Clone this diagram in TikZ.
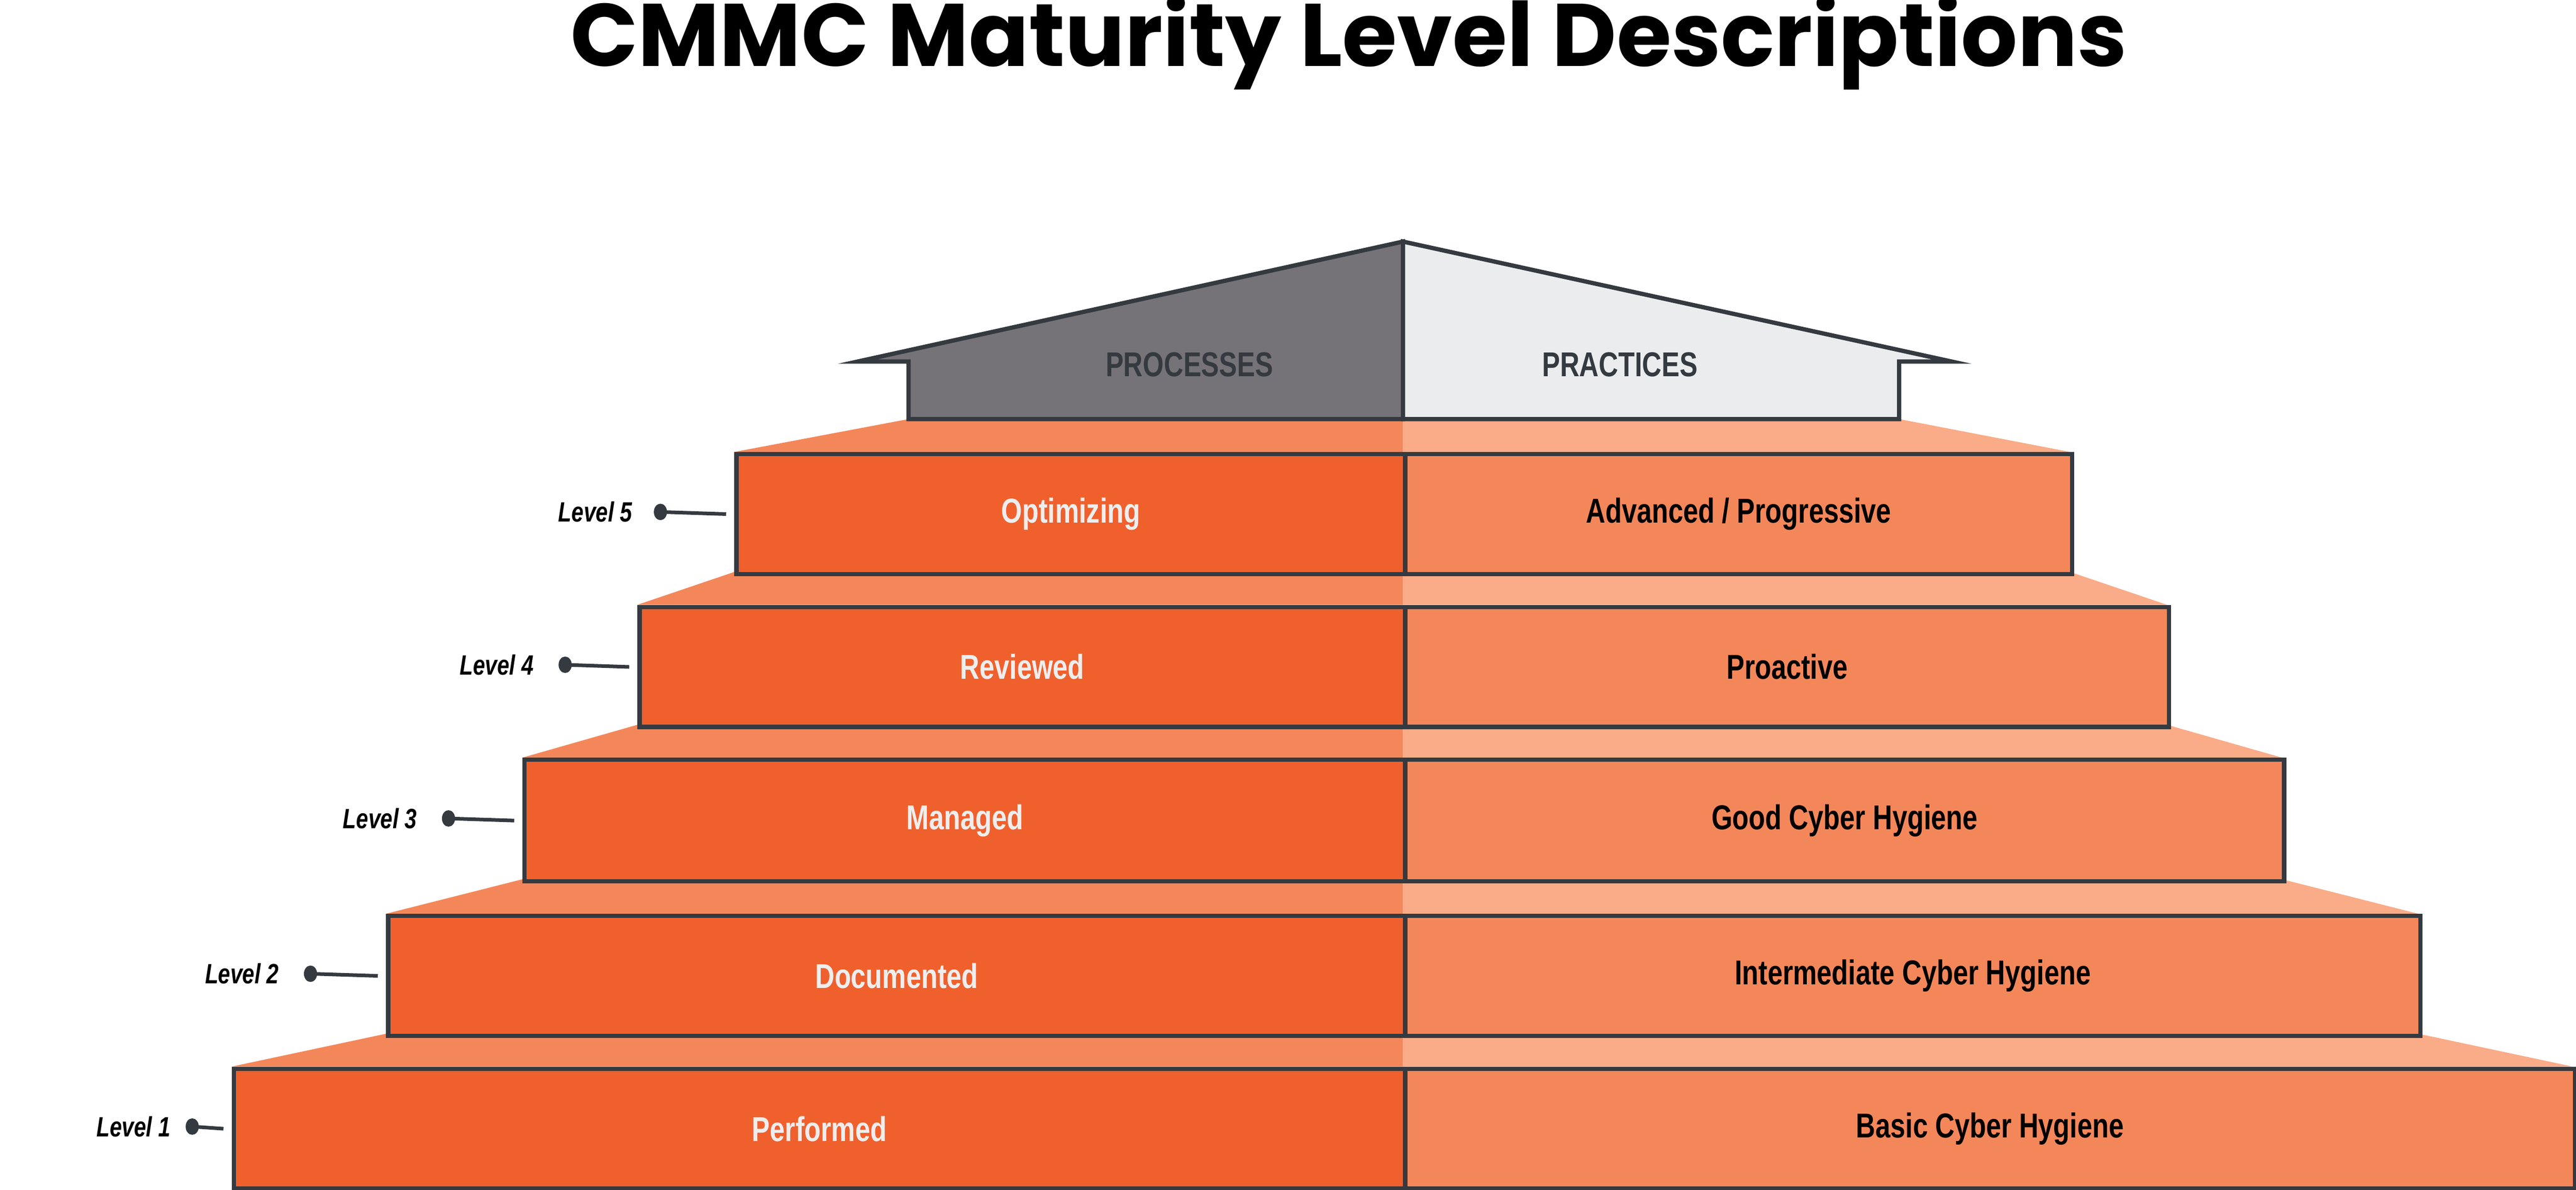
\documentclass[tikz,border=0pt]{standalone}
\usepackage{fontspec}
\setmainfont{Liberation Sans}
\newfontfamily\titlefont{Poppins}
\newfontfamily\condfont[FakeStretch=0.78]{Liberation Sans}
\definecolor{edge}{HTML}{343A40}
\definecolor{lbox}{HTML}{F0602D}
\definecolor{rbox}{HTML}{F4875A}
\definecolor{lledge}{HTML}{F4875A}
\definecolor{rledge}{HTML}{F9AC87}
\definecolor{roofl}{HTML}{757378}
\definecolor{roofr}{HTML}{EBECEE}
\definecolor{ltext}{HTML}{EEEEEE}
\tikzset{
  boxl/.style={draw=edge,line width=2.6pt,fill=lbox,text=ltext,font=\condfont\bfseries\fontsize{21}{24}\selectfont,inner sep=0pt},
  boxr/.style={draw=edge,line width=2.6pt,fill=rbox,text=black,font=\condfont\bfseries\fontsize{21}{24}\selectfont,inner sep=0pt},
  lvl/.style={font=\condfont\bfseries\itshape\fontsize{17}{20}\selectfont,anchor=east,inner sep=0pt},
  tick/.style={draw=edge,line width=2.2pt},
  roof/.style={draw=edge,line width=2.6pt,line join=miter},
}
\begin{document}
\begin{tikzpicture}[x=1pt,y=-1pt]
\useasboundingbox (0,0) rectangle (1568,724);
\node[font=\titlefont\bfseries\fontsize{54}{60}\selectfont,anchor=center] (title) at (821,26) {CMMC Maturity Level Descriptions};
\foreach \a/\b/\yt/\c/\d/\yb in {553/1156/255/447/1260/275, 447/1260/348/388/1319/368, 388/1319/441/318/1389/461, 318/1389/535/235/1472/556, 235/1472/629/141/1566/649}{
  \fill[lledge] (\a,\yt) -- (854,\yt) -- (854,\yb) -- (\c,\yb) -- cycle;
  \fill[rledge] (854,\yt) -- (\b,\yt) -- (\d,\yb) -- (854,\yb) -- cycle;
}
\draw[roof,fill=roofl] (854,147) -- (854,255) -- (553,255) -- (553,220) -- (522,220) -- cycle;
\draw[roof,fill=roofr] (854,147) -- (1188,220) -- (1156,220) -- (1156,255) -- (854,255) -- cycle;
\node[text=edge,font=\condfont\bfseries\fontsize{21}{24}\selectfont] (proc) at (724,222) {PROCESSES};
\node[text=edge,font=\condfont\bfseries\fontsize{21}{24}\selectfont] (prac) at (986,222) {PRACTICES};
\foreach \n/\xl/\xr/\yt/\yb/\lt/\rt/\lx/\dx in {
 5/447/1260/275/348/Optimizing/{Advanced \slash{} Progressive}/385/402,
 4/388/1319/368/441/Reviewed/Proactive/325/344,
 3/318/1389/461/535/Managed/Good Cyber Hygiene/254/273,
 2/235/1472/556/629/Documented/Intermediate Cyber Hygiene/170/189,
 1/141/1566/649/722/Performed/Basic Cyber Hygiene/104/117}{
  \pgfmathsetmacro\lw{854-\xl}\pgfmathsetmacro\rw{\xr-854}\pgfmathsetmacro\hh{\yb-\yt}\pgfmathsetmacro\ym{(\yt+\yb)/2}
  \node[boxl,minimum width=\lw pt,minimum height=\hh pt,anchor=north west] (L\n) at (\xl,\yt) {\lt};
  \node[boxr,minimum width=\rw pt,minimum height=\hh pt,anchor=north west] (R\n) at (854,\yt) {\rt};
  \node[lvl] (T\n) at (\lx,\ym) {Level \n};
  \coordinate (D\n) at (\dx,\ym);
  \fill[edge] (D\n) ellipse (4pt and 5pt);
  \draw[tick] (D\n) -- ([xshift=-5pt]L\n.west);
}
\end{tikzpicture}
\end{document}
